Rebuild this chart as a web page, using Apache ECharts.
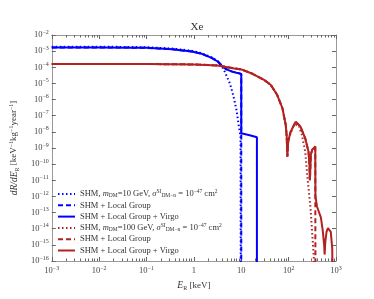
<!DOCTYPE html>
<html><head><meta charset="utf-8">
<script src="https://cdn.jsdelivr.net/npm/echarts@6/dist/echarts.min.js"></script>
<style>html,body{margin:0;padding:0;background:#fff}#c{width:374px;height:299px}</style>
</head><body><div id="c"></div>
<script>
// ---- data (E in keV, rate in keV^-1 kg^-1 year^-1) ----
const blueDotE = [0.001, 0.01, 0.1, 0.35, 0.9, 1.47, 2.37, 3.24, 3.83, 4.47, 5.75, 6.76, 7.94, 8.7, 9.66, 9.77];
const blueDotR = [1.9e-3, 1.9e-3, 1.75e-3, 1.45e-3, 1.05e-3, 7.4e-4, 4.1e-4, 2.3e-4, 1.26e-4, 5.4e-5, 1.0e-5, 1.9e-6, 2.2e-7, 3.4e-8, 5e-9, 1e-18];

const blueDashE = [0.001, 0.01, 0.05, 0.1, 0.35, 0.9, 1.47, 2.37, 3.24, 3.83, 4.9, 6.2, 7.9, 10, 10];
const blueDashR = [1.7e-3, 1.7e-3, 1.65e-3, 1.6e-3, 1.3e-3, 9.5e-4, 6.8e-4, 3.8e-4, 2.2e-4, 1.3e-4, 7.4e-5, 5.6e-5, 4.6e-5, 3.9e-5, 1e-18];

const blueSolE = [0.001, 0.01, 0.05, 0.1, 0.35, 0.9, 1.47, 2.37, 3.24, 3.83, 4.9, 6.2, 7.9, 10, 10, 11.7, 15.8, 21.4, 21.4];
const blueSolR = [1.7e-3, 1.7e-3, 1.65e-3, 1.6e-3, 1.3e-3, 9.5e-4, 6.8e-4, 3.8e-4, 2.2e-4, 1.3e-4, 7.4e-5, 5.6e-5, 4.6e-5, 3.9e-5, 8.1e-9, 7.4e-9, 5.9e-9, 4.6e-9, 1e-18];

const redDotE = [0.001, 0.1, 1, 3.16, 7.2, 10, 16.2, 30.9, 42.2, 57.5, 74, 87, 91.2, 94, 97.7, 110, 126, 148, 166, 191, 224, 245, 288, 339, 355];
const redDotR = [1.6e-4, 1.6e-4, 1.5e-4, 1.3e-4, 8.5e-5, 7.4e-5, 4.3e-5, 1.6e-5, 7.9e-6, 1.9e-6, 2.9e-7, 2.6e-8, 5e-9, 2.9e-10, 2.5e-9, 8e-9, 2.2e-8, 2.8e-8, 2.2e-8, 6.3e-9, 5.9e-10, 2.7e-11, 2.3e-13, 2e-16, 1e-18];

const redDashE = [0.001, 0.1, 1, 3.16, 7.2, 10, 16.2, 30.9, 42.2, 57.5, 74, 87, 91.2, 94, 97.7, 110, 141, 178, 224, 263, 275, 281, 295, 316, 365, 368];
const redDashR = [1.6e-4, 1.6e-4, 1.5e-4, 1.3e-4, 8.5e-5, 7.4e-5, 4.3e-5, 1.6e-5, 7.9e-6, 1.9e-6, 2.9e-7, 2.6e-8, 5e-9, 2.9e-10, 2.5e-9, 1.0e-8, 4.3e-8, 2.1e-8, 4.0e-9, 5.9e-10, 1e-10, 1e-11, 4e-10, 8e-10, 1.25e-9, 1e-18];

const redSolE = [0.001, 0.1, 1, 3.16, 7.2, 10, 16.2, 30.9, 42.2, 57.5, 74, 87, 91.2, 94, 97.7, 110, 141, 178, 224, 263, 275, 281, 295, 316, 365, 368, 398, 427, 479, 525, 562, 575, 596, 631, 676, 724, 776, 832, 861];
const redSolR = [1.6e-4, 1.6e-4, 1.5e-4, 1.3e-4, 8.5e-5, 7.4e-5, 4.3e-5, 1.6e-5, 7.9e-6, 1.9e-6, 2.9e-7, 2.6e-8, 5e-9, 2.9e-10, 2.5e-9, 1.0e-8, 4.3e-8, 2.1e-8, 4.0e-9, 5.9e-10, 1e-10, 1e-11, 4e-10, 8e-10, 1.25e-9, 1e-12, 2.3e-13, 1.8e-13, 5e-14, 7.9e-15, 1e-15, 2.5e-16, 1.6e-15, 6.3e-15, 1.1e-14, 1.3e-14, 6.3e-15, 6.3e-16, 1e-18];

const xMin = 1e-3, xMax = 1e3, yMin = 1e-16, yMax = 1e-2;
const xMinorMult = [2, 3, 4, 5, 6, 7, 8, 9];
const xDecades = [1e-3, 1e-2, 1e-1, 1, 10, 100];

const legendKeys = ['b1', 'b2', 'b3', 'r1', 'r2', 'r3'];
const legendTexts = [
  'SHM, {i|m}{sub|DM}=10 GeV, {i|σ}{sup|SI}{sub|DM−n} = 10{sup|−47} cm{sup|2}',
  'SHM + Local Group',
  'SHM + Local Group + Virgo',
  'SHM, {i|m}{sub|DM}=100 GeV, {i|σ}{sup|SI}{sub|DM−n} = 10{sup|−47} cm{sup|2}',
  'SHM + Local Group',
  'SHM + Local Group + Virgo'
];

const BLUE = '#0000ff', RED = '#b22222';
const FONT = 'Liberation Serif';
const zip = (a, b) => a.map((v, i) => [v, b[i]]);

const minorVals = [];
xDecades.forEach(d => xMinorMult.forEach(m => minorVals.push(d * m)));

const supMinus = '−';
function expLabel(v, allowPlain) {
  const e = Math.round(Math.log10(v));
  if (allowPlain && e === 0) return '{b|1}';
  if (allowPlain && e === 1) return '{b|10}';
  return '{b|10}{s|' + (e < 0 ? supMinus + (-e) : e) + '}';
}
const tickRich = {
  b: {fontFamily: FONT, fontSize: 8.5, color: '#444', lineHeight: 12},
  s: {fontFamily: FONT, fontSize: 6, color: '#444', lineHeight: 6, verticalAlign: 'top'}
};
const smallRich = {
  i: {fontFamily: FONT, fontStyle: 'italic', fontSize: 8.5, color: '#333', lineHeight: 10},
  sub: {fontFamily: FONT, fontSize: 5.5, color: '#333', lineHeight: 4, verticalAlign: 'bottom'},
  sup: {fontFamily: FONT, fontSize: 5.5, color: '#333', lineHeight: 4, verticalAlign: 'top'}
};

const axisGray = '#999';
const grid = {left: 48, right: 38, top: 35, bottom: 38};

const baseX = {type: 'log', logBase: 10, min: xMin, max: xMax, gridIndex: 0};
const baseY = {type: 'log', logBase: 10, min: yMin, max: yMax, gridIndex: 0};

const option = {
  animation: false,
  backgroundColor: '#fff',
  title: {
    text: 'Xe', left: 192, top: 17, textAlign: 'center',
    textStyle: {fontFamily: FONT, fontSize: 11, fontWeight: 'normal', color: '#333'}
  },
  grid: grid,
  legend: {
    data: legendKeys, orient: 'vertical', left: 52, top: 184,
    itemWidth: 17, itemHeight: 10, itemGap: 1.3,
    itemStyle: {opacity: 0, borderWidth: 0},
    formatter: k => legendTexts[legendKeys.indexOf(k)],
    textStyle: {fontFamily: FONT, fontSize: 8.5, color: '#333', lineHeight: 10, rich: smallRich},
    selectedMode: false
  },
  xAxis: [
    Object.assign({}, baseX, {
      position: 'bottom', interval: 1,
      axisLine: {show: true, lineStyle: {color: axisGray, width: 1}},
      axisTick: {show: true, inside: true, length: 4, lineStyle: {color: '#666'}},
      axisLabel: {formatter: v => expLabel(v, true), rich: tickRich, margin: 4},
      splitLine: {show: false},
      name: '{i|E}{sub|R} [keV]', nameLocation: 'middle', nameGap: 17,
      nameTextStyle: {fontFamily: FONT, fontSize: 9, color: '#333',
        rich: {i: {fontFamily: FONT, fontStyle: 'italic', fontSize: 9.5, color: '#333', lineHeight: 12},
               sub: {fontFamily: FONT, fontSize: 6, color: '#333', lineHeight: 5, verticalAlign: 'bottom'}}}
    }),
    Object.assign({}, baseX, {
      position: 'bottom',
      axisLine: {show: false},
      axisTick: {show: true, inside: true, length: 2.5, customValues: minorVals, lineStyle: {color: '#666'}},
      axisLabel: {show: false}, splitLine: {show: false}
    }),
    Object.assign({}, baseX, {
      position: 'top', interval: 1,
      axisLine: {show: true, lineStyle: {color: axisGray, width: 1}},
      axisTick: {show: true, inside: true, length: 4, lineStyle: {color: '#666'}},
      axisLabel: {show: false}, splitLine: {show: false}
    }),
    Object.assign({}, baseX, {
      position: 'top',
      axisLine: {show: false},
      axisTick: {show: true, inside: true, length: 2.5, customValues: minorVals, lineStyle: {color: '#666'}},
      axisLabel: {show: false}, splitLine: {show: false}
    })
  ],
  yAxis: [
    Object.assign({}, baseY, {
      position: 'left', interval: 1,
      axisLine: {show: true, lineStyle: {color: axisGray, width: 1}},
      axisTick: {show: true, inside: true, length: 4, lineStyle: {color: '#666'}},
      axisLabel: {formatter: v => expLabel(v, false), rich: tickRich, margin: 3},
      splitLine: {show: false},
      name: '{i|dR/dE}{sub|R} [keV{sup|−1}kg{sup|−1}year{sup|−1}]',
      nameLocation: 'middle', nameGap: 28, nameRotate: 90,
      nameTextStyle: {fontFamily: FONT, fontSize: 9, color: '#333',
        rich: {i: {fontFamily: FONT, fontStyle: 'italic', fontSize: 9.5, color: '#333', lineHeight: 12},
               sub: {fontFamily: FONT, fontSize: 6, color: '#333', lineHeight: 5, verticalAlign: 'bottom'},
               sup: {fontFamily: FONT, fontSize: 6, color: '#333', lineHeight: 5, verticalAlign: 'top'}}}
    }),
    Object.assign({}, baseY, {
      position: 'right', interval: 1,
      axisLine: {show: true, lineStyle: {color: axisGray, width: 1}},
      axisTick: {show: true, inside: true, length: 4, lineStyle: {color: '#666'}},
      axisLabel: {show: false}, splitLine: {show: false}
    })
  ],
  series: [
    {name: 'b1', type: 'line', data: zip(blueDotE, blueDotR), symbol: 'none', color: BLUE,
     lineStyle: {color: BLUE, width: 2, type: [1.5, 2.5]}},
    {name: 'b2', type: 'line', data: zip(blueDashE, blueDashR), symbol: 'none', color: BLUE,
     lineStyle: {color: BLUE, width: 2, type: [5, 3]}},
    {name: 'b3', type: 'line', data: zip(blueSolE, blueSolR), symbol: 'none', color: BLUE,
     lineStyle: {color: BLUE, width: 2, type: 'solid'}},
    {name: 'r1', type: 'line', data: zip(redDotE, redDotR), symbol: 'none', color: RED,
     lineStyle: {color: RED, width: 2, type: [1.5, 2.5]}},
    {name: 'r2', type: 'line', data: zip(redDashE, redDashR), symbol: 'none', color: RED,
     lineStyle: {color: RED, width: 2, type: [5, 3]}},
    {name: 'r3', type: 'line', data: zip(redSolE, redSolR), symbol: 'none', color: RED,
     lineStyle: {color: RED, width: 2, type: 'solid'}}
  ]
};

const chart = echarts.init(document.getElementById('c'), null, {renderer: 'canvas'});
chart.setOption(option);
</script>
</body></html>
